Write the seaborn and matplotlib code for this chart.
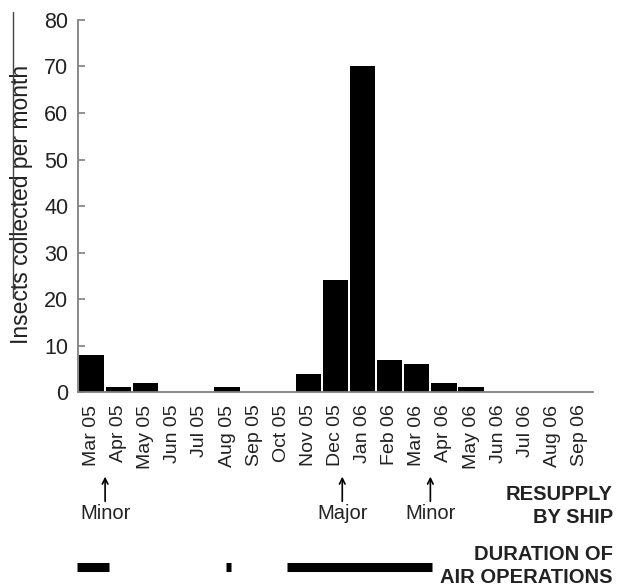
import matplotlib
matplotlib.use("Agg")
import matplotlib.pyplot as plt
import matplotlib.transforms as mtransforms
from matplotlib.lines import Line2D
import seaborn as sns
import pandas as pd

months = ['Mar 05', 'Apr 05', 'May 05', 'Jun 05', 'Jul 05', 'Aug 05', 'Sep 05', 'Oct 05',
          'Nov 05', 'Dec 05', 'Jan 06', 'Feb 06', 'Mar 06', 'Apr 06', 'May 06', 'Jun 06',
          'Jul 06', 'Aug 06', 'Sep 06']
insects = [8, 1, 2, 0, 0, 1, 0, 0, 4, 24, 70, 7, 6, 2, 1, 0, 0, 0, 0]

# resupply by ship (position in month index units) and its type
resupply_pos = [0.5, 9.25, 12.5]
resupply_type = ['Minor', 'Major', 'Minor']

# air operations periods (start, end) in month index units
air_ops = [(-0.55, 0.65), (4.95, 5.15), (7.2, 12.55)]

df = pd.DataFrame({'Month': months, 'Insects': insects})

sns.set_style("ticks")
plt.rcParams['font.family'] = ['Liberation Sans', 'DejaVu Sans']

fig = plt.figure(figsize=(6.19, 5.87), dpi=100)
ax = fig.add_axes([0.126, 0.332, 0.832, 0.634])

sns.barplot(data=df, x='Month', y='Insects', color='black', width=0.93,
            linewidth=0, saturation=1, ax=ax)

ax.set_ylim(0, 80)
ax.set_xlim(-0.5, len(months) - 0.5)
ax.set_yticks(range(0, 81, 10))
ax.set_xlabel('')
ax.set_ylabel('Insects collected per month', fontsize=16.5, color='#222222')
ax.yaxis.set_label_coords(-0.087, 0.503)

ax.tick_params(axis='y', direction='in', length=5, width=1.2, color='#808080',
               labelsize=15.5, labelcolor='#222222', pad=7)
ax.tick_params(axis='x', length=0, labelsize=14, labelcolor='#222222', pad=9,
               labelrotation=90)

sns.despine(ax=ax)
for s in ['left', 'bottom']:
    ax.spines[s].set_color('#808080')
    ax.spines[s].set_linewidth(1.3)

# x in data units, y in figure fraction
trans = mtransforms.blended_transform_factory(ax.transData, fig.transFigure)

for pos, kind in zip(resupply_pos, resupply_type):
    ax.annotate('', xy=(pos, 0.188), xytext=(pos, 0.146), xycoords=trans,
                textcoords=trans, annotation_clip=False,
                arrowprops=dict(arrowstyle='->', color='black', lw=1.2,
                                shrinkA=0, shrinkB=0))
    ax.text(pos, 0.126, kind, transform=trans, ha='center', va='center',
            fontsize=14.5, color='#222222', clip_on=False)

for start, end in air_ops:
    ax.plot([start, end], [0.034, 0.034], transform=trans, color='black',
            lw=6.5, solid_capstyle='butt', clip_on=False)

bold = dict(ha='right', va='center', fontsize=14.5, fontweight='bold',
            color='#222222')
fig.text(0.99, 0.157, 'RESUPPLY', **bold)
fig.text(0.99, 0.119, 'BY SHIP', **bold)
fig.text(0.99, 0.055, 'DURATION OF', **bold)
fig.text(0.99, 0.017, 'AIR OPERATIONS', **bold)

# thin line beside the y label, as in the original figure
fig.add_artist(Line2D([13 / 619, 13 / 619], [1 - 12 / 587, 1 - 298 / 587],
                      color='#444444', lw=1))

fig.savefig('out.png', dpi=100)
